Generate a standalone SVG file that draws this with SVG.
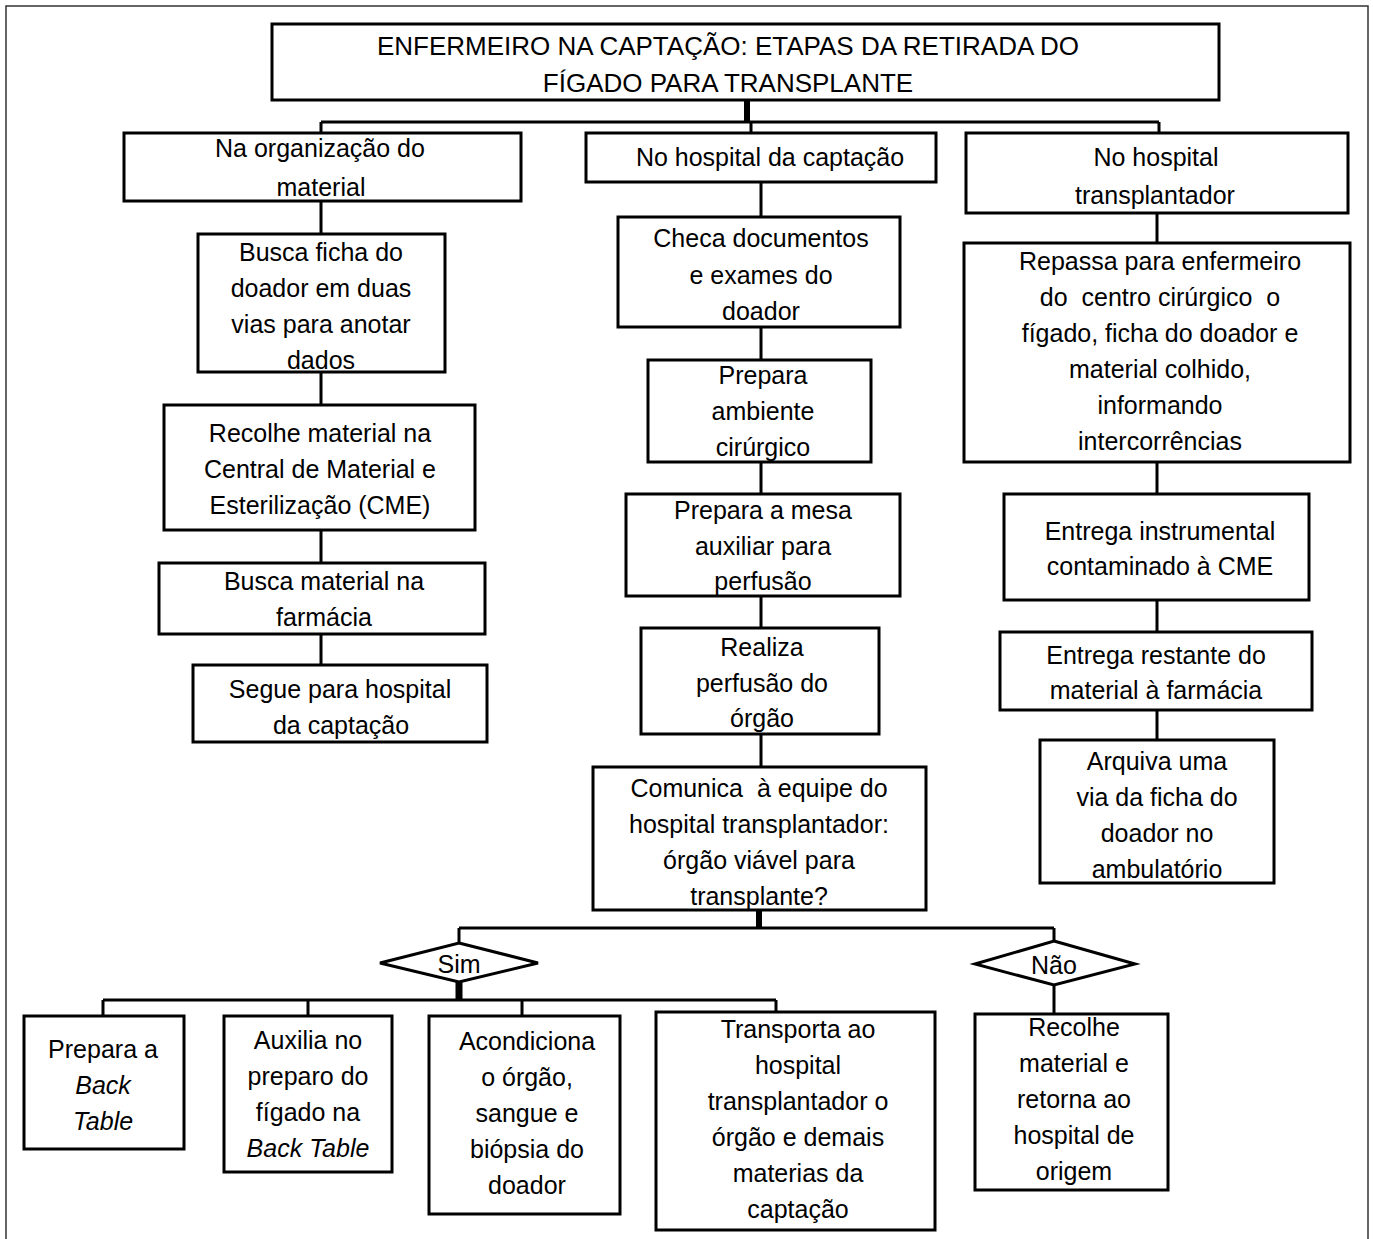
<svg xmlns="http://www.w3.org/2000/svg" width="1373" height="1239" viewBox="0 0 1373 1239">
<style>
.box{fill:#fff;stroke:#000;stroke-width:3}
.con{fill:none;stroke:#000;stroke-width:3}
.thick{fill:none;stroke:#000;stroke-width:6}
text{font-family:"Liberation Sans",Arial,Helvetica,sans-serif;font-size:25px;fill:#000;text-anchor:middle;white-space:pre}
.title{font-size:26px}
.it{font-style:italic}
</style>
<rect width="1373" height="1239" fill="#fff"/>
<path d="M6 1239 V6 H1368 V1239" fill="none" stroke="#333" stroke-width="1.5"/>

<g id="connectors">
<path class="thick" d="M747 100 V122"/>
<path class="con" d="M321 122 H1159 M321 122 V133 M751 122 V133 M1159 122 V133"/>
<path class="con" d="M321 201 V234 M321 372 V405 M321 530 V563 M321 634 V665"/>
<path class="con" d="M761 182 V217 M761 327 V360 M761 462 V494 M761 596 V628 M761 734 V767"/>
<path class="con" d="M1157 213 V243 M1157 462 V494 M1157 600 V632 M1157 710 V740"/>
<path class="thick" d="M759 910 V928"/>
<path class="con" d="M459 928 H1054 M459 928 V943 M1054 928 V941"/>
<path class="thick" d="M459 982 V1000" style="stroke-width:7"/>
<path class="con" d="M103 1000 H776 M103 1000 V1016 M308 1000 V1016 M522 1000 V1016 M776 1000 V1012"/>
<path class="con" d="M1054 985 V1014"/>
</g>

<g id="title">
<rect class="box" x="272" y="24" width="947" height="76"/>
<text class="title" x="728" y="55">ENFERMEIRO NA CAPTAÇÃO: ETAPAS DA RETIRADA DO</text>
<text class="title" x="728" y="92">FÍGADO PARA TRANSPLANTE</text>
</g>

<g id="b1">
<rect class="box" x="124" y="133" width="397" height="68"/>
<text x="320" y="157">Na organização do</text>
<text x="321" y="196">material</text>
</g>
<g id="b2">
<rect class="box" x="198" y="234" width="247" height="138"/>
<text x="321" y="261">Busca ficha do</text>
<text x="321" y="297">doador em duas</text>
<text x="321" y="333">vias para anotar</text>
<text x="321" y="369">dados</text>
</g>
<g id="b3">
<rect class="box" x="164" y="405" width="311" height="125"/>
<text x="320" y="442">Recolhe material na</text>
<text x="320" y="478">Central de Material e</text>
<text x="320" y="514">Esterilização (CME)</text>
</g>
<g id="b4">
<rect class="box" x="159" y="563" width="326" height="71"/>
<text x="324" y="590">Busca material na</text>
<text x="324" y="626">farmácia</text>
</g>
<g id="b5">
<rect class="box" x="193" y="665" width="294" height="77"/>
<text x="340" y="698">Segue para hospital</text>
<text x="341" y="734">da captação</text>
</g>

<g id="m1">
<rect class="box" x="586" y="133" width="350" height="49"/>
<text x="770" y="166">No hospital da captação</text>
</g>
<g id="m2">
<rect class="box" x="618" y="217" width="282" height="110"/>
<text x="761" y="247">Checa documentos</text>
<text x="761" y="284">e exames do</text>
<text x="761" y="320">doador</text>
</g>
<g id="m3">
<rect class="box" x="648" y="360" width="223" height="102"/>
<text x="763" y="384">Prepara</text>
<text x="763" y="420">ambiente</text>
<text x="763" y="456">cirúrgico</text>
</g>
<g id="m4">
<rect class="box" x="626" y="494" width="274" height="102"/>
<text x="763" y="519">Prepara a mesa</text>
<text x="763" y="555">auxiliar para</text>
<text x="763" y="590">perfusão</text>
</g>
<g id="m5">
<rect class="box" x="641" y="628" width="238" height="106"/>
<text x="762" y="656">Realiza</text>
<text x="762" y="692">perfusão do</text>
<text x="762" y="727">órgão</text>
</g>
<g id="m6">
<rect class="box" x="593" y="767" width="333" height="143"/>
<text x="759" y="797">Comunica  à equipe do</text>
<text x="759" y="833">hospital transplantador:</text>
<text x="759" y="869">órgão viável para</text>
<text x="759" y="905">transplante?</text>
</g>

<g id="sim">
<polygon class="box" points="459,943 538,963 459,982 380,963"/>
<text x="459" y="973">Sim</text>
</g>
<g id="nao">
<polygon class="box" points="1054,941 1135,964 1054,985 975,964"/>
<text x="1054" y="974">Não</text>
</g>

<g id="l1">
<rect class="box" x="24" y="1016" width="160" height="133"/>
<text x="103" y="1058">Prepara a</text>
<text class="it" x="103" y="1094">Back</text>
<text class="it" x="103" y="1130">Table</text>
</g>
<g id="l2">
<rect class="box" x="224" y="1016" width="168" height="156"/>
<text x="308" y="1049">Auxilia no</text>
<text x="308" y="1085">preparo do</text>
<text x="308" y="1121">fígado na</text>
<text class="it" x="308" y="1157">Back Table</text>
</g>
<g id="l3">
<rect class="box" x="429" y="1016" width="191" height="198"/>
<text x="527" y="1050">Acondiciona</text>
<text x="527" y="1086">o órgão,</text>
<text x="527" y="1122">sangue e</text>
<text x="527" y="1158">biópsia do</text>
<text x="527" y="1194">doador</text>
</g>
<g id="l4">
<rect class="box" x="656" y="1012" width="279" height="218"/>
<text x="798" y="1038">Transporta ao</text>
<text x="798" y="1074">hospital</text>
<text x="798" y="1110">transplantador o</text>
<text x="798" y="1146">órgão e demais</text>
<text x="798" y="1182">materias da</text>
<text x="798" y="1218">captação</text>
</g>
<g id="n1">
<rect class="box" x="975" y="1014" width="193" height="176"/>
<text x="1074" y="1036">Recolhe</text>
<text x="1074" y="1072">material e</text>
<text x="1074" y="1108">retorna ao</text>
<text x="1074" y="1144">hospital de</text>
<text x="1074" y="1180">origem</text>
</g>

<g id="r1">
<rect class="box" x="966" y="133" width="382" height="80"/>
<text x="1156" y="166">No hospital</text>
<text x="1155" y="204">transplantador</text>
</g>
<g id="r2">
<rect class="box" x="964" y="243" width="386" height="219"/>
<text x="1160" y="270">Repassa para enfermeiro</text>
<text x="1160" y="306">do  centro cirúrgico  o</text>
<text x="1160" y="342">fígado, ficha do doador e</text>
<text x="1160" y="378">material colhido,</text>
<text x="1160" y="414">informando</text>
<text x="1160" y="450">intercorrências</text>
</g>
<g id="r3">
<rect class="box" x="1004" y="494" width="305" height="106"/>
<text x="1160" y="540">Entrega instrumental</text>
<text x="1160" y="575">contaminado à CME</text>
</g>
<g id="r4">
<rect class="box" x="1000" y="632" width="312" height="78"/>
<text x="1156" y="664">Entrega restante do</text>
<text x="1156" y="699">material à farmácia</text>
</g>
<g id="r5">
<rect class="box" x="1040" y="740" width="234" height="143"/>
<text x="1157" y="770">Arquiva uma</text>
<text x="1157" y="806">via da ficha do</text>
<text x="1157" y="842">doador no</text>
<text x="1157" y="878">ambulatório</text>
</g>
</svg>
